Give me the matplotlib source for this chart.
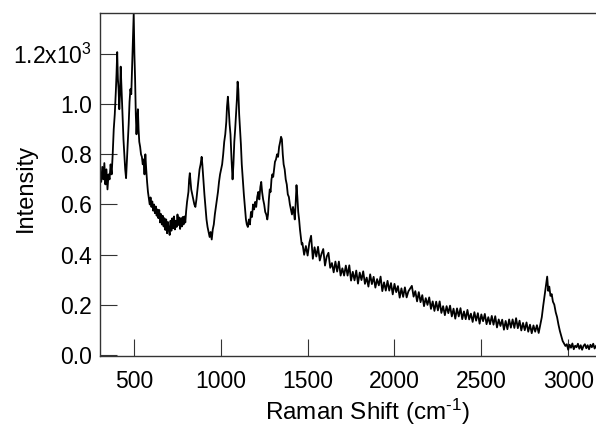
import matplotlib
matplotlib.use("Agg")
import matplotlib.pyplot as plt

plt.rcParams["font.family"] = ["Liberation Sans", "DejaVu Sans"]
plt.rcParams["mathtext.fontset"] = "custom"
plt.rcParams["mathtext.rm"] = "Liberation Sans"
plt.rcParams["mathtext.it"] = "Liberation Sans:italic"
plt.rcParams["mathtext.bf"] = "Liberation Sans:bold"

# Raman spectrum (shift in cm-1, intensity in counts)
shift = [
    305, 312, 318, 324, 330, 336, 342, 348, 354, 360, 366, 372, 378, 384, 390,
    396, 400, 404, 408, 412, 416, 420, 424, 428, 432, 436, 440, 445, 450, 455,
    460, 465, 470, 475, 480, 485, 490, 495, 499, 503, 507, 511, 515, 519, 523,
    527, 531, 536, 541, 546, 551, 556, 561, 566, 571,
    576, 581, 586, 591, 596, 601, 606, 611, 616, 621, 626, 631, 636, 641, 646,
    651, 656, 661, 666, 671, 676, 681, 686, 691, 696, 701, 706, 711, 716, 721,
    726, 731, 736, 741, 746, 751, 756, 761, 766, 771, 776, 781, 786, 791, 796,
    801, 806,
    814, 818, 822, 826, 830, 836, 842, 848, 854, 860,
    866, 872, 878, 884, 890, 894, 898, 902, 906, 912, 918, 924, 930, 936, 942,
    948, 954, 960, 966, 972, 978, 984, 990, 996, 1002, 1008, 1014, 1020, 1026,
    1032, 1036, 1041, 1046, 1051, 1056, 1062, 1068, 1073, 1078, 1083, 1088,
    1093, 1097, 1101, 1106, 1111, 1116, 1121, 1127, 1133, 1139, 1145, 1150,
    1156, 1162, 1168, 1174, 1180, 1186, 1192, 1198, 1204, 1210, 1216, 1222,
    1228, 1233, 1238, 1244, 1250, 1256, 1262, 1268, 1272, 1277, 1282, 1287,
    1292, 1297, 1302, 1307, 1312, 1318, 1324, 1330, 1336, 1342, 1347, 1352,
    1357, 1362, 1368, 1374, 1380, 1386, 1392, 1398, 1404, 1410, 1416, 1421,
    1426, 1431, 1436, 1441, 1446, 1451, 1456, 1461, 1466,
    1470, 1480, 1490, 1500, 1510, 1520, 1530, 1540, 1550, 1560, 1570, 1580,
    1590, 1600, 1610, 1620, 1630, 1640, 1650, 1660, 1670, 1680, 1690, 1700,
    1710, 1720, 1730, 1740, 1750, 1760, 1770, 1780, 1790, 1800, 1810, 1820,
    1830, 1840, 1850, 1860, 1870, 1880, 1890, 1900, 1910, 1920, 1930, 1940,
    1950, 1960, 1970, 1980, 1990, 2000, 2010, 2020, 2030, 2040, 2050, 2060,
    2070, 2080, 2090, 2100, 2110, 2120, 2130, 2140, 2150, 2160, 2170, 2180,
    2190, 2200, 2210, 2220, 2230, 2240, 2250, 2260, 2270, 2280, 2290, 2300,
    2310, 2320, 2330, 2340, 2350, 2360, 2370, 2380, 2390, 2400, 2410, 2420,
    2430, 2440, 2450, 2460, 2470, 2480, 2490, 2500, 2510, 2520, 2530, 2540,
    2550, 2560, 2570, 2580, 2590, 2600, 2610, 2620, 2630, 2640, 2650, 2660,
    2670, 2680, 2690, 2700, 2710, 2720, 2730, 2740, 2750, 2760, 2770, 2780,
    2790, 2800, 2810, 2820, 2830, 2840,
    2848, 2856, 2864, 2871, 2879, 2885, 2891, 2898, 2905, 2912, 2920, 2928,
    2936, 2944, 2952, 2960, 2968, 2976, 2984,
    2992, 3000, 3008, 3016, 3024, 3032, 3040, 3048, 3056, 3064, 3072, 3080,
    3088, 3096, 3104, 3112, 3120, 3128, 3136, 3144, 3152, 3160,
]
intensity = [
    725, 690, 750, 700, 765, 680, 740, 660, 720, 700, 760, 720, 800, 900, 960,
    1050, 1120, 1208, 1100, 1060, 980, 1040, 1150, 1080, 1020, 940, 860, 800, 740, 705,
    780, 850, 920, 1010, 1060, 1040, 1150, 1250, 1362, 1200, 1100, 960, 880, 940, 980,
    900, 850, 830, 800, 790, 760, 780, 720, 800, 740,
    690, 650, 625, 600, 628, 590, 612, 575, 600, 565, 592, 555, 580, 545, 578,
    528, 562, 520, 555, 512, 545, 498, 540, 485, 530, 500, 478, 535, 495, 545,
    505, 552, 500, 535, 510, 560, 518, 548, 502, 545, 512, 550, 520, 552, 528,
    575, 610,
    650, 700, 725, 690, 660, 640, 620, 600, 590, 620,
    660, 700, 740, 760, 790, 760, 720, 680, 640, 590, 540, 510, 490, 470, 490,
    460, 500, 520, 560, 590, 620, 650, 690, 720, 740, 760, 800, 850, 880,
    930, 990, 1030, 980, 920, 880, 780, 700, 760, 850, 900, 960,
    1020, 1090, 1060, 960, 900, 840, 760, 700, 640, 590, 540, 520,
    510, 540, 520, 570, 550, 600, 580, 610, 590, 630, 650, 620,
    670, 690, 650, 620, 600, 570, 560, 540, 560, 620, 660, 650,
    700, 720, 710, 740, 770, 780, 800, 790, 830, 850, 870, 860,
    800, 760, 740, 700, 680, 640, 630, 600, 580, 560, 590, 570,
    540, 600, 677, 630, 570, 540, 500, 470, 440,
    446, 399, 434, 396, 447, 475, 383, 429, 392, 431, 376, 403,
    422, 356, 392, 407, 347, 366, 329, 372, 332, 372, 316, 345,
    316, 356, 316, 357, 296, 331, 297, 336, 284, 328, 298, 333,
    283, 308, 272, 321, 282, 311, 268, 302, 277, 312, 254, 289,
    256, 295, 256, 286, 241, 283, 250, 274, 228, 265, 231, 269,
    229, 253, 264, 275, 232, 254, 213, 250, 210, 238, 194, 226,
    199, 229, 183, 213, 175, 212, 177, 213, 167, 194, 158, 194,
    166, 196, 153, 184, 144, 185, 153, 186, 142, 173, 142, 179,
    141, 164, 131, 170, 136, 166, 124, 161, 134, 163, 122, 150,
    122, 155, 120, 154, 109, 141, 115, 140, 100, 135, 102, 141,
    108, 141, 107, 146, 106, 136, 97, 127, 98, 129, 92, 120,
    86, 117, 92, 118, 87, 121,
    150, 195, 235, 270, 312, 255, 272, 235, 242, 212, 200, 170,
    150, 120, 95, 75, 55, 45, 35,
    42, 20, 40, 28, 45, 22, 36, 30, 44, 24, 38, 20,
    35, 42, 26, 38, 22, 40, 30, 44, 25, 35,
]

y_ticks = [0, 200, 400, 600, 800, 1000, 1200]
y_labels = ["0.0", "0.2", "0.4", "0.6", "0.8", "1.0", "1.2x10$^3$"]
x_ticks = [500, 1000, 1500, 2000, 2500, 3000]

fig = plt.figure(figsize=(5.96, 4.26), dpi=100)
ax = fig.add_axes([0.1678, 0.1643, 0.8322, 0.8063])

ax.plot(shift, intensity, color="black", linewidth=1.3)

ax.set_xlim(305, 3160)
ax.set_ylim(-5, 1366)
ax.set_xticks(x_ticks)
ax.set_yticks(y_ticks)
ax.set_yticklabels(y_labels)

ax.tick_params(direction="in", length=12, width=0.8, labelsize=16.5,
               color="#333333", top=False, right=False)
ax.tick_params(axis="x", pad=10)
ax.tick_params(axis="y", pad=6)

for side in ["left", "bottom", "top"]:
    ax.spines[side].set_color("#333333")
    ax.spines[side].set_linewidth(1.0)
ax.spines["right"].set_visible(False)

ax.set_xlabel(r"Raman Shift (cm$^{\text{-}1}$)", fontsize=17.5)
ax.set_ylabel("Intensity", fontsize=17)
ax.xaxis.set_label_coords(0.54, -0.12)
ax.yaxis.set_label_coords(-0.127, 0.49)

fig.savefig("out.png", dpi=100)
